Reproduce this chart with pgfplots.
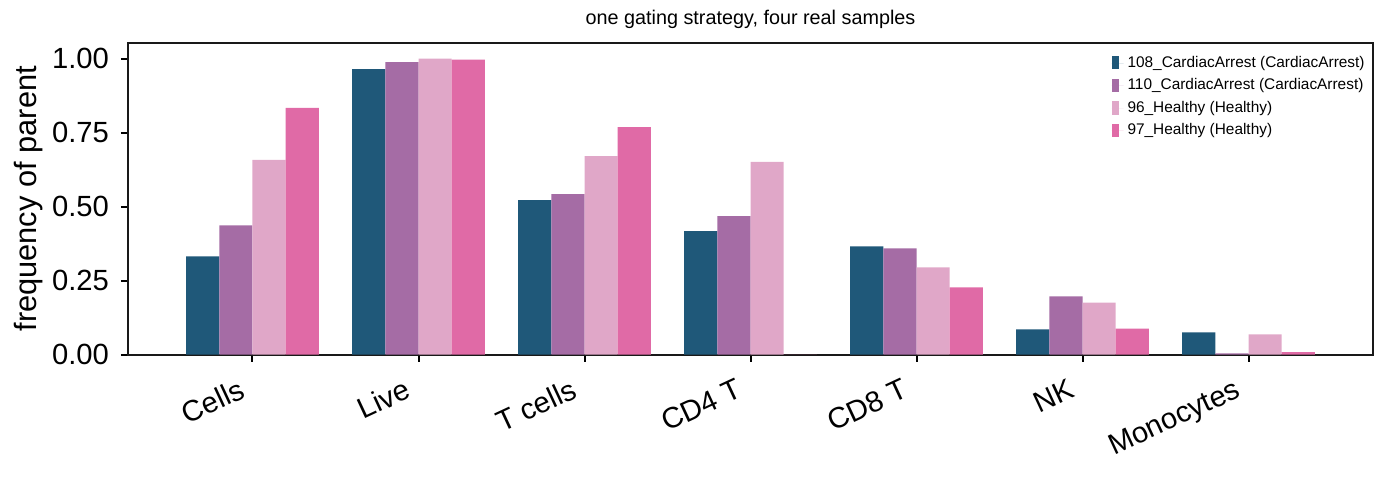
\documentclass[border=0pt]{standalone}
\usepackage{pgfplots}
\pgfplotsset{compat=1.18}
\usepackage{fontspec}
\setmainfont{Liberation Sans}
\usetikzlibrary{calc}
\definecolor{cA}{RGB}{31,88,121}
\definecolor{cB}{RGB}{165,108,165}
\definecolor{cC}{RGB}{224,167,200}
\definecolor{cD}{RGB}{224,106,166}
\pgfplotstableread{
x s108 s110 s96 s97
0 0.332 0.437 0.658 0.834
1 0.965 0.988 1.000 0.997
2 0.522 0.542 0.671 0.769
3 0.417 0.468 0.651 0.000
4 0.366 0.359 0.295 0.227
5 0.085 0.197 0.176 0.088
6 0.075 0.004 0.068 0.008
}\datatable
\begin{document}
\begin{tikzpicture}
\begin{axis}[
  name=ax,
  scale only axis,
  width=622.5pt, height=155.8pt,
  xmin=-0.75, xmax=6.75,
  ymin=0, ymax=1.053,
  ybar=0pt, bar width=0.2,
  xtick=data,
  xticklabels={Cells,Live,T cells,CD4 T,CD8 T,NK,Monocytes},
  ytick={0,0.25,0.5,0.75,1.0},
  /pgf/number format/assume math mode=true,
  yticklabel style={xshift=-2.5pt, /pgf/number format/fixed, /pgf/number format/fixed zerofill, /pgf/number format/precision=2},
  tick label style={font=\fontsize{14.6}{17}\selectfont, text=black},
  xticklabel style={rotate=25, anchor=north east, inner sep=1pt, yshift=-3pt, xshift=-9pt},
  tick align=outside, tick pos=left,
  major tick length=3.5pt,
  every tick/.style={line width=1pt, black},
  axis line style={line width=1pt, black!90},
  ylabel={frequency of parent},
  ylabel style={font=\fontsize{15.4}{18}\selectfont, yshift=-2.5pt},
  title={one gating strategy, four real samples},
  title style={font=\fontsize{9.9}{12}\selectfont, yshift=-2.5pt},
  legend style={draw=none, fill=none, at={(1,1)}, anchor=north east, xshift=0pt, yshift=-2.3pt,
    font=\fontsize{7.7}{9}\selectfont, row sep=0.2pt, inner sep=2pt},
  legend cell align=left,
  legend image code/.code={\path (0pt,0pt) -- (6pt,0pt); \fill[#1] (0pt,-3.2pt) rectangle (3.6pt,3.4pt);},
]
\addplot[fill=cA, draw=none] table[x=x,y=s108]{\datatable};
\addplot[fill=cB, draw=none] table[x=x,y=s110]{\datatable};
\addplot[fill=cC, draw=none] table[x=x,y=s96]{\datatable};
\addplot[fill=cD, draw=none] table[x=x,y=s97]{\datatable};
\legend{108\_CardiacArrest (CardiacArrest),110\_CardiacArrest (CardiacArrest),96\_Healthy (Healthy),97\_Healthy (Healthy)}
\end{axis}
\path ($(ax.south west)+(-64pt,-61pt)$) rectangle ($(ax.north east)+(8pt,21.5pt)$);
\end{tikzpicture}
\end{document}
